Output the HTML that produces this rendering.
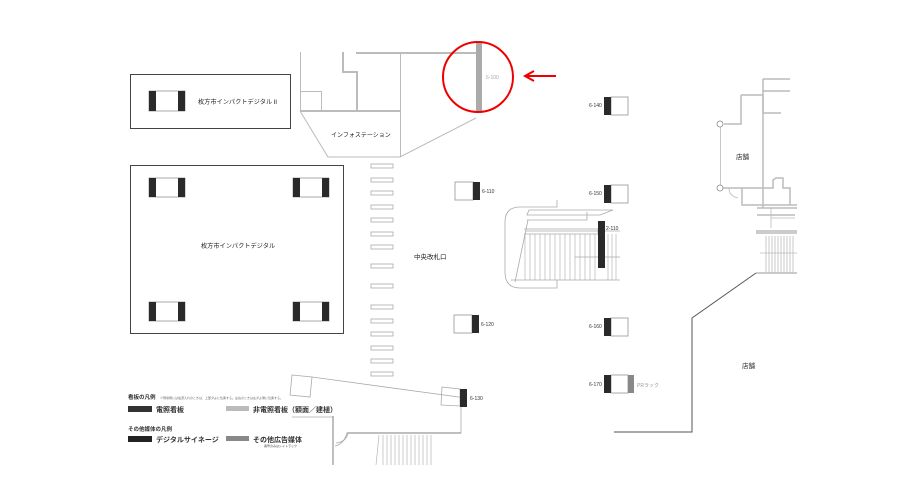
<!DOCTYPE html>
<html><head><meta charset="utf-8"><style>
body{margin:0;background:#fff;}
svg{display:block;font-family:"Liberation Sans","Noto Sans CJK JP",sans-serif;}
</style></head><body>
<svg width="919" height="491" viewBox="0 0 919 491" xmlns="http://www.w3.org/2000/svg">
<rect width="919" height="491" fill="#fff"/>
<rect x="130.5" y="74.5" width="160" height="54" fill="none" stroke="#444" stroke-width="1"/>
<rect x="149" y="91" width="36" height="20" fill="#fff" stroke="#aaa"/>
<rect x="149" y="91" width="7" height="20" fill="#2a2a2a"/><rect x="178" y="91" width="7" height="20" fill="#2a2a2a"/>
<text x="198" y="104" font-size="6.2" fill="#222">枚方市インパクトデジタルⅡ</text>
<rect x="130.5" y="165.5" width="213" height="168" fill="none" stroke="#444"/>
<g fill="#2a2a2a">
<rect x="149" y="178" width="36" height="19" fill="#fff" stroke="#aaa"/><rect x="149" y="178" width="7" height="19"/><rect x="178" y="178" width="7" height="19"/>
<rect x="293" y="178" width="36" height="19" fill="#fff" stroke="#aaa"/><rect x="293" y="178" width="7" height="19"/><rect x="322" y="178" width="7" height="19"/>
<rect x="149" y="302" width="36" height="19" fill="#fff" stroke="#aaa"/><rect x="149" y="302" width="7" height="19"/><rect x="178" y="302" width="7" height="19"/>
<rect x="293" y="302" width="36" height="19" fill="#fff" stroke="#aaa"/><rect x="293" y="302" width="7" height="19"/><rect x="322" y="302" width="7" height="19"/>
</g>
<text x="201" y="248" font-size="6.2" fill="#222">枚方市インパクトデジタル</text>
<g fill="none" stroke="#bbb" stroke-width="1">
<path d="M300.5 52V111"/><path d="M300 91.5H321.5V111"/>
<path d="M300 111L328 157H400L476 118"/>
<path d="M400.5 53V157"/>
</g>
<g fill="none" stroke="#bbb" stroke-width="2">
<path d="M300 111H400"/><path d="M343 52V72H357V111"/><path d="M356 53H476"/>
</g>
<text x="331" y="137" font-size="6" fill="#222">インフォステーション</text>
<rect x="476" y="42" width="6" height="71" fill="#aaa"/>
<text x="486" y="79" font-size="5" fill="#aaa">6-100</text>
<circle cx="478" cy="77" r="35" fill="none" stroke="#e00" stroke-width="2"/>
<path d="M527 76H556" stroke="#e00" stroke-width="2"/><path d="M534 71L525 76L534 81" fill="none" stroke="#e00" stroke-width="2"/>
<g fill="#fff" stroke="#aaa" stroke-width="0.8">
<rect x="371" y="164" width="22" height="4"/><rect x="371" y="178" width="22" height="4"/><rect x="371" y="191" width="22" height="4"/><rect x="371" y="205" width="22" height="4"/><rect x="371" y="218" width="22" height="4"/><rect x="371" y="232" width="22" height="4"/><rect x="371" y="245" width="22" height="4"/><rect x="371" y="264" width="22" height="4"/><rect x="371" y="284" width="22" height="4"/><rect x="371" y="305" width="22" height="4"/><rect x="371" y="319" width="22" height="4"/><rect x="371" y="332" width="22" height="4"/><rect x="371" y="346" width="22" height="4"/><rect x="371" y="359" width="22" height="4"/><rect x="371" y="372" width="22" height="4"/>
</g>
<text x="414" y="259" font-size="6.5" fill="#222">中央改札口</text>
<g font-size="5" fill="#333">
<rect x="455" y="182" width="18" height="18" fill="#fff" stroke="#aaa"/><rect x="473" y="182" width="7" height="18" fill="#2a2a2a"/><text x="482" y="193">6-110</text>
<rect x="454" y="315" width="18" height="18" fill="#fff" stroke="#aaa"/><rect x="472" y="315" width="7" height="18" fill="#2a2a2a"/><text x="481" y="326">6-120</text>
<rect x="611" y="97" width="17" height="18" fill="#fff" stroke="#aaa"/><rect x="604" y="97" width="7" height="18" fill="#2a2a2a"/><text x="589" y="107">6-140</text>
<rect x="611" y="185" width="17" height="18" fill="#fff" stroke="#aaa"/><rect x="604" y="185" width="7" height="18" fill="#2a2a2a"/><text x="589" y="195">6-150</text>
<rect x="611" y="318" width="17" height="18" fill="#fff" stroke="#aaa"/><rect x="604" y="318" width="7" height="18" fill="#2a2a2a"/><text x="589" y="328">6-160</text>
<rect x="611" y="375" width="17" height="18" fill="#fff" stroke="#aaa"/><rect x="604" y="375" width="7" height="18" fill="#2a2a2a"/><rect x="628" y="375" width="6" height="18" fill="#888"/><text x="589" y="386">6-170</text>
<text x="637" y="387" fill="#999">PRラック</text>
<text x="606" y="230">2-110</text>
<text x="470" y="400">6-130</text>
</g>
<g fill="none" stroke="#aaa" stroke-width="0.8">
<path d="M557 200V207H520Q505 207 505 222V272Q505 288 520 288H557V280"/>
<path d="M529 210L613 210L600 215H527Z"/>
<path d="M527 220H587V212"/><path d="M526 231H620"/><path d="M524 229L598 229V234H524"/>
<path d="M528 220L515 282"/><path d="M511 280H620"/><path d="M575 257H620"/>
</g>
<g stroke="#aaa" stroke-width="0.6">
<path d="M525 234V280M530 234V280M535 234V280M540 234V280M545 234V280M550 234V280M555 234V280M560 234V280M565 234V280M570 234V280M575 234V280M580 234V280M585 234V280M590 234V280M595 234V280M608 234V280M612 234V280M616 234V280"/>
</g>
<rect x="598" y="221" width="7" height="47" fill="#2a2a2a"/>
<g fill="none" stroke="#bbb" stroke-width="1.5">
<path d="M763 79V208"/><path d="M763 79H790M763 91H790M763 113H781"/>
<path d="M741 95H763V113M741 95V124H724"/>
<path d="M720 188H763M742 188V205H797M763 188H773V180L776 178H783V188H790V205"/>
<path d="M757 208H797M757 215H795"/>
<path d="M756 233H797M756 231H797M756 273H797"/>
</g>
<g stroke="#bbb" stroke-width="0.8" fill="none">
<path d="M720.5 124V188"/><path d="M771 208V228M771 218H795"/>
<path d="M766 236V273M769 236V273M772 236V273M775 236V273M778 236V273M781 236V273M784 236V273M787 236V273M790 236V273M793 236V273"/>
<path d="M760 253H797"/>
<path d="M729 188Q729 196 738 198"/>
</g>
<circle cx="720" cy="124" r="3" fill="#fff" stroke="#888" stroke-width="0.8"/>
<circle cx="720" cy="188" r="3" fill="#fff" stroke="#888" stroke-width="0.8"/>
<text x="736" y="159" font-size="6.5" fill="#222">店舗</text>
<path d="M756 273L692 318V432H614" fill="none" stroke="#555" stroke-width="1"/>
<text x="742" y="368" font-size="6.5" fill="#222">店舗</text>
<g fill="none" stroke="#aaa" stroke-width="0.8">
<path d="M292 375L312 377L310 397L290 395Z"/>
<path d="M312 377L466 398"/>
<path d="M442 387L460 389V406L441 405Z"/>
<path d="M333 417H292"/>
<path d="M461 407V433H347Q344 444 335 446"/>
<path d="M336 443Q346 442 348 433"/>
</g>
<path d="M333 416V465M347 433H461" stroke="#aaa" stroke-width="1.5" fill="none"/>
<g stroke="#aaa" stroke-width="0.6">
<path d="M379 435L376 465M383 435V465M387 435V465M391 435V465M395 435V465M399 435V465M403 435V465M407 435V465M411 435V465M415 435V465M419 435V465M423 435V465M427 435V465M431 435V465"/>
</g>
<rect x="460" y="389" width="7" height="18" fill="#2a2a2a"/>
<text x="128" y="399" font-size="5.5" font-weight="bold" fill="#333">看板の凡例</text>
<text x="160" y="399" font-size="3" fill="#666">※現場例には電源入れのときは、上部ダよに位置する。左右のときは左ダよ側に位置する。</text>
<rect x="128" y="406" width="24" height="6" fill="#333"/>
<text x="156" y="412" font-size="7" fill="#333" font-weight="bold">電照看板</text>
<rect x="226" y="406" width="23" height="5" fill="#bbb"/>
<text x="253" y="412" font-size="7" fill="#333" font-weight="bold">非電照看板（額面／建植）</text>
<text x="128" y="431" font-size="5.5" font-weight="bold" fill="#333">その他媒体の凡例</text>
<rect x="128" y="436" width="24" height="6" fill="#222"/>
<text x="156" y="442" font-size="7" fill="#333" font-weight="bold">デジタルサイネージ</text>
<rect x="226" y="436" width="23" height="5" fill="#888"/>
<text x="253" y="442" font-size="7" fill="#333" font-weight="bold">その他広告媒体</text>
<text x="264" y="447" font-size="3" fill="#444">番号のみはシャトラック</text>
</svg>
</body></html>
